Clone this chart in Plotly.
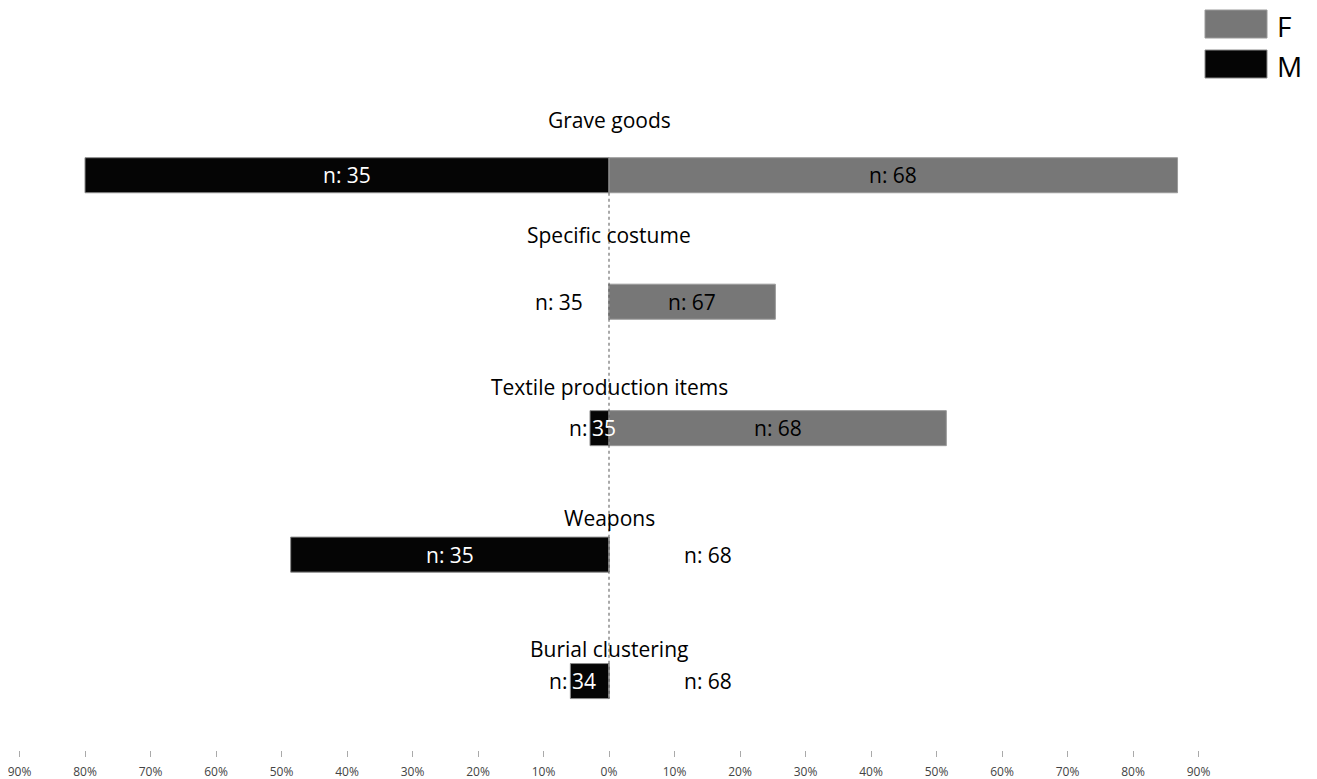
import plotly.graph_objects as go

categories = ["Grave goods", "Specific costume", "Textile production items", "Weapons", "Burial clustering"]
female_pct = [86.8, 25.4, 51.5, 0.0, 0.0]
male_pct = [80.0, 0.0, 2.9, 48.6, 5.9]
female_n = [68, 67, 68, 68, 68]
male_n = [35, 35, 35, 35, 34]
tick_vals = [-90, -80, -70, -60, -50, -40, -30, -20, -10, 0, 10, 20, 30, 40, 50, 60, 70, 80, 90]
tick_text = [f"{abs(v)}%" for v in tick_vals]

OFF = 8  # page body margin
W, H = 1309, 771
ML, MR, MT, MB = 0, 0, 104, 29
FONT = "Open Sans"
F_COLOR = "#777777"
M_COLOR = "#050505"
BAR_W = 0.277
TITLE_SHIFT = [55, 67, 41, 37, 32]  # vertical offset of each category heading (px)

fig = go.Figure()
fig.add_trace(go.Bar(
    name="M", y=categories, x=[-v for v in male_pct], orientation="h",
    marker=dict(color=M_COLOR, line=dict(color="#8a8a8a", width=1)),
    width=BAR_W, hoverinfo="skip", showlegend=False))
fig.add_trace(go.Bar(
    name="F", y=categories, x=female_pct, orientation="h",
    marker=dict(color=F_COLOR, line=dict(color="#9a9a9a", width=1)),
    width=BAR_W, hoverinfo="skip", showlegend=False))

ann = []
fs = 21
for i, cat in enumerate(categories):
    ann.append(dict(x=0, y=cat, text=cat, showarrow=False, xanchor="center", yanchor="middle",
                    yshift=TITLE_SHIFT[i], font=dict(family=FONT, size=fs, color="black")))
    mv, fv = male_pct[i], female_pct[i]
    if mv == 0:
        ann.append(dict(x=0, y=cat, text=f"n: {male_n[i]}", showarrow=False, xanchor="right",
                        xshift=-24, font=dict(family=FONT, size=fs, color="black")))
    elif mv < 10:
        ann.append(dict(x=-mv, y=cat, text=f"{male_n[i]}", showarrow=False, xanchor="left",
                        xshift=0, font=dict(family=FONT, size=fs, color="white")))
        ann.append(dict(x=-mv, y=cat, text="n:", showarrow=False, xanchor="right",
                        xshift=-1, font=dict(family=FONT, size=fs, color="black")))
    else:
        ann.append(dict(x=-mv / 2, y=cat, text=f"n: {male_n[i]}", showarrow=False, xanchor="center",
                        font=dict(family=FONT, size=fs, color="white")))
    if fv == 0:
        ann.append(dict(x=0, y=cat, text=f"n: {female_n[i]}", showarrow=False, xanchor="left",
                        xshift=73, font=dict(family=FONT, size=fs, color="black")))
    else:
        ann.append(dict(x=fv / 2, y=cat, text=f"n: {female_n[i]}", showarrow=False, xanchor="center",
                        font=dict(family=FONT, size=fs, color="black")))

# legend drawn manually (screen pixel -> paper helpers)
pw, ph = W - ML - MR, H - MT - MB
def px(x):
    return (x - OFF - ML) / pw
def py(y):
    return (H - MB - (y - OFF)) / ph

shapes = [
    dict(type="line", xref="x", yref="y", x0=0, x1=0, y0=0 + BAR_W / 2, y1=len(categories) - 1 + BAR_W / 2,
         line=dict(color="#555555", width=1, dash="dot")),
    dict(type="rect", xref="paper", yref="paper", x0=px(1205), x1=px(1267), y0=py(38), y1=py(10),
         fillcolor=F_COLOR, line=dict(color="#9a9a9a", width=1)),
    dict(type="rect", xref="paper", yref="paper", x0=px(1205), x1=px(1267), y0=py(78), y1=py(50),
         fillcolor=M_COLOR, line=dict(color="#8a8a8a", width=1)),
]
ann.append(dict(xref="paper", yref="paper", x=px(1275), y=py(26), text="F", showarrow=False,
                xanchor="left", yanchor="middle", font=dict(family=FONT, size=28, color="black")))
ann.append(dict(xref="paper", yref="paper", x=px(1275), y=py(66), text="M", showarrow=False,
                xanchor="left", yanchor="middle", font=dict(family=FONT, size=28, color="black")))

zero_px = 609 - OFF
scale = 6.55
fig.update_layout(
    width=W, height=H, barmode="relative",
    margin=dict(l=ML, r=MR, t=MT, b=MB),
    plot_bgcolor="white", paper_bgcolor="white",
    annotations=ann, shapes=shapes,
    xaxis=dict(range=[-zero_px / scale, (W - zero_px) / scale], tickvals=tick_vals, ticktext=tick_text,
               showgrid=False, zeroline=False, showline=False, ticks="outside", ticklen=6,
               tickcolor="#aaaaaa", tickfont=dict(family=FONT, size=12, color="#444444"),
               ticklabelstandoff=5, ticklabeloverflow="allow", fixedrange=True),
    yaxis=dict(range=[len(categories) - 1 + 0.545, -0.5], showticklabels=False, showgrid=False,
               zeroline=False, showline=False, ticks=""),
    font=dict(family=FONT),
)
fig.write_html("out.html")
